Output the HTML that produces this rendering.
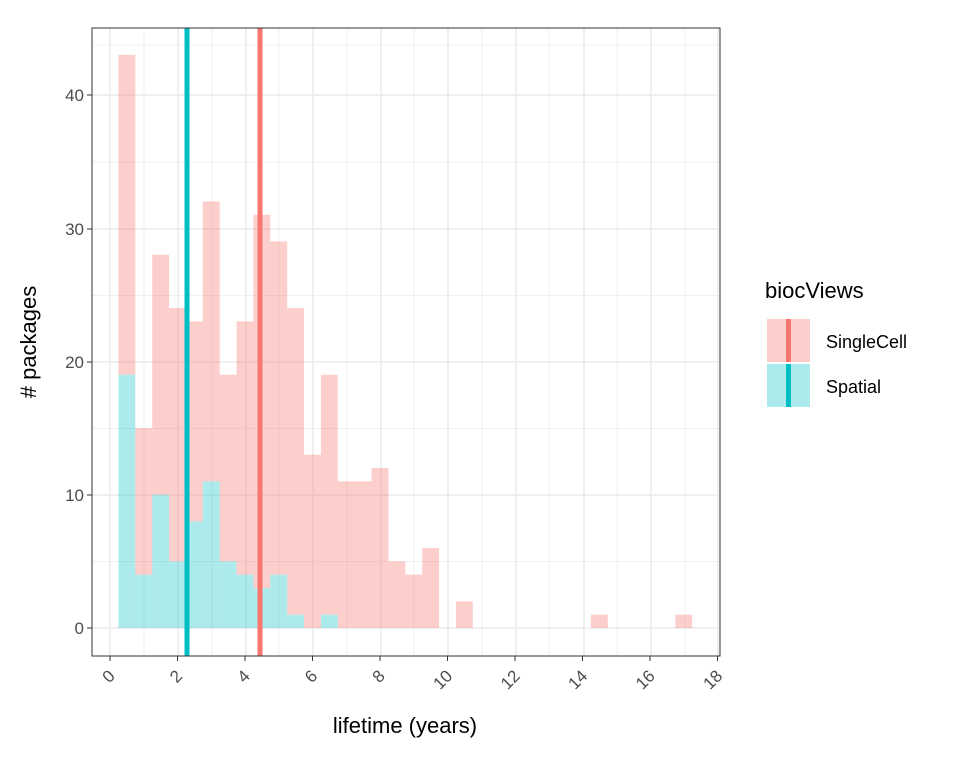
<!DOCTYPE html><html><head><style>body{margin:0;background:#fff}svg{display:block;font-family:"Liberation Sans",sans-serif}</style></head><body>
<svg width="960" height="768" viewBox="0 0 960 768">
<rect width="960" height="768" fill="#fff"/>
<g stroke="#ebebeb" stroke-width="0.8">
<line x1="92" x2="720" y1="561.5" y2="561.5"/><line x1="92" x2="720" y1="428.5" y2="428.5"/><line x1="92" x2="720" y1="295.5" y2="295.5"/><line x1="92" x2="720" y1="162" y2="162"/><line x1="92" x2="720" y1="45" y2="45"/>
<line x1="144" x2="144" y1="28" y2="656"/><line x1="212" x2="212" y1="28" y2="656"/><line x1="279" x2="279" y1="28" y2="656"/><line x1="347" x2="347" y1="28" y2="656"/><line x1="414" x2="414" y1="28" y2="656"/><line x1="482" x2="482" y1="28" y2="656"/><line x1="549" x2="549" y1="28" y2="656"/><line x1="617" x2="617" y1="28" y2="656"/><line x1="685" x2="685" y1="28" y2="656"/>
</g>
<g stroke="#ebebeb" stroke-width="1.6">
<line x1="92" x2="720" y1="628" y2="628"/><line x1="92" x2="720" y1="495" y2="495"/><line x1="92" x2="720" y1="362" y2="362"/><line x1="92" x2="720" y1="229" y2="229"/><line x1="92" x2="720" y1="95" y2="95"/>
<line x1="110" x2="110" y1="28" y2="656"/><line x1="178" x2="178" y1="28" y2="656"/><line x1="246" x2="246" y1="28" y2="656"/><line x1="313" x2="313" y1="28" y2="656"/><line x1="381" x2="381" y1="28" y2="656"/><line x1="448" x2="448" y1="28" y2="656"/><line x1="516" x2="516" y1="28" y2="656"/><line x1="584" x2="584" y1="28" y2="656"/><line x1="651" x2="651" y1="28" y2="656"/><line x1="718" x2="718" y1="28" y2="656"/>
</g>
<g id="bars"></g>
<rect x="184.5" y="28" width="5" height="628" fill="#00BFC4"/>
<rect x="257.5" y="28" width="5" height="628" fill="#F8766D"/>
<rect x="92" y="28" width="628" height="628" fill="none" stroke="#333" stroke-width="1"/>
<g fill="#4d4d4d" font-size="17" text-anchor="end">
<text x="84" y="634">0</text><text x="84" y="501">10</text><text x="84" y="368">20</text><text x="84" y="235">30</text><text x="84" y="101">40</text>
</g>
<g stroke="#333"><line x1="87" x2="92" y1="628" y2="628"/><line x1="87" x2="92" y1="495" y2="495"/><line x1="87" x2="92" y1="362" y2="362"/><line x1="87" x2="92" y1="229" y2="229"/><line x1="87" x2="92" y1="95" y2="95"/></g>
<g id="xt" fill="#4d4d4d" font-size="17" text-anchor="end"></g>
<text x="405" y="733" font-size="22" text-anchor="middle">lifetime (years)</text>
<text transform="translate(36,342) rotate(-90)" font-size="22" text-anchor="middle"># packages</text>
<text x="765" y="298" font-size="22">biocViews</text>
<rect x="767" y="319" width="43" height="43" fill="#F8766D" fill-opacity="0.35"/>
<rect x="786" y="319" width="5" height="43" fill="#F8766D"/>
<rect x="767" y="364" width="43" height="43" fill="#00BFC4" fill-opacity="0.32"/>
<rect x="786" y="364" width="5" height="43" fill="#00BFC4"/>
<text x="826" y="348" font-size="18">SingleCell</text>
<text x="826" y="393" font-size="18">Spatial</text>
<script>
var ns="http://www.w3.org/2000/svg";
function x(v){return 110+33.75*v}function y(c){return 628-13.33*c}
var sc={0:43,1:15,2:28,3:24,4:23,5:32,6:19,7:23,8:31,9:29,10:24,11:13,12:19,13:11,14:11,15:12,16:5,17:4,18:6,20:2,28:1,33:1};
var sp={0:19,1:4,2:10,3:5,4:8,5:11,6:5,7:4,8:3,9:4,10:1,12:1};
var g=document.getElementById("bars");
function rect(k,lo,hi,col,op){var r=document.createElementNS(ns,"rect");var a=x(0.25+0.5*k),b=x(0.75+0.5*k);r.setAttribute("x",a);r.setAttribute("width",b-a);r.setAttribute("y",y(hi));r.setAttribute("height",13.33*(hi-lo));r.setAttribute("fill",col);r.setAttribute("fill-opacity",op);g.appendChild(r);}
for(var k in sc){var lo=sp[k]||0;if(sc[k]>lo)rect(k,lo,sc[k],"#F8766D",0.35);}
for(var k in sp){rect(k,0,sp[k],"#00BFC4",0.32);}
var xt=document.getElementById("xt");
for(var i=0;i<=18;i+=2){var t=document.createElementNS(ns,"text");var px=x(i);t.setAttribute("transform","translate("+(px+6)+",677) rotate(-45)");t.textContent=i;xt.appendChild(t);
var l=document.createElementNS(ns,"line");l.setAttribute("x1",px);l.setAttribute("x2",px);l.setAttribute("y1",656);l.setAttribute("y2",661);l.setAttribute("stroke","#333");xt.parentNode.appendChild(l);}
</script>
</svg></body></html>
